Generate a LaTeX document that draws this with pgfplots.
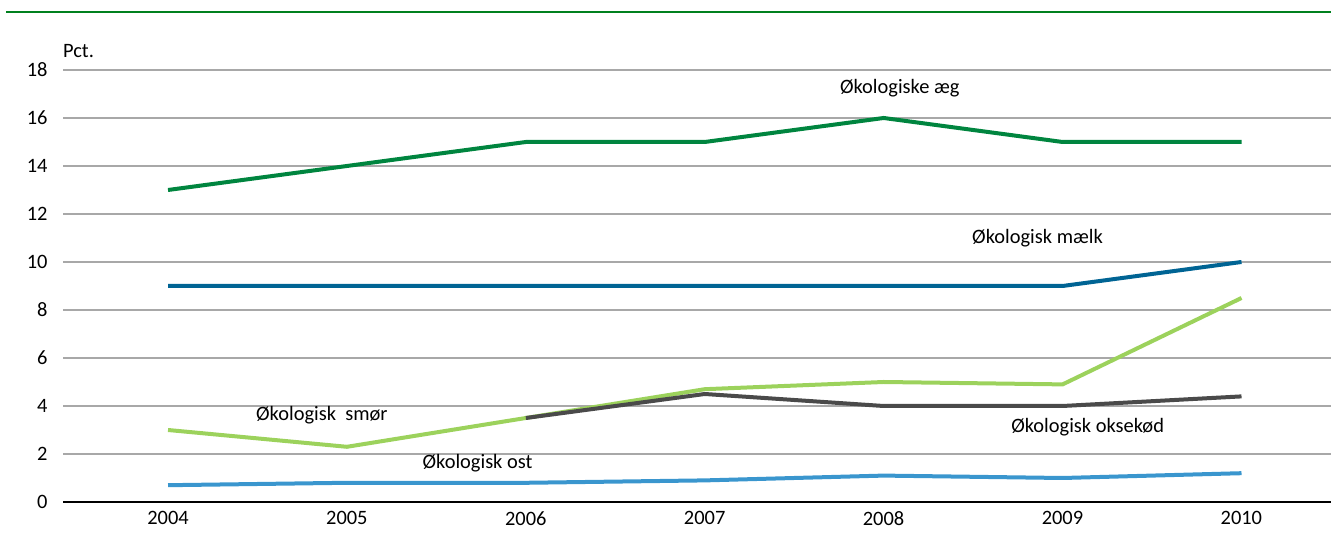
\documentclass[border=0pt]{standalone}
\usepackage{pgfplots}
\pgfplotsset{compat=1.18}
\usepackage{fontspec}
\setmainfont{Carlito}
\definecolor{egg}{HTML}{00853F}
\definecolor{milk}{HTML}{006494}
\definecolor{butter}{HTML}{9CD25C}
\definecolor{beef}{HTML}{4A4A4A}
\definecolor{cheese}{HTML}{3A96CE}
\definecolor{gridc}{HTML}{A8A8A8}
\definecolor{topc}{HTML}{00801E}
\begin{document}
\begin{tikzpicture}[x=1bp,y=1bp]
\path[use as bounding box] (0,0) rectangle (1337,538);
\draw[topc, line width=2bp] (6,526) -- (1331,526);
\begin{axis}[
  at={(63bp,36bp)}, anchor=origin,
  scale only axis, width=1268bp, height=432bp,
  xmin=2003.413, xmax=2010.5, ymin=0, ymax=18,
  xtick={2004,...,2010}, ytick={0,2,...,18},
  xticklabels={2004,2005,2006,2007,2008,2009,2010},
  axis x line*=bottom, axis y line*=left,
  x axis line style={black, line width=2.6bp, -},
  y axis line style={draw=none},
  major tick length=0pt,
  ymajorgrids, grid style={gridc, line width=1.8bp},
  tick label style={font=\fontsize{20.5}{24}\selectfont, black},
  /pgf/number format/assume math mode=true,
  /pgf/number format/1000 sep={},
  xticklabel style={yshift=-6bp},
  yticklabel style={xshift=-12bp},
  clip=false,
  every axis plot/.append style={line width=4bp, no markers},
]
\addplot[egg] coordinates {(2004,13) (2005,14) (2006,15) (2007,15) (2008,16) (2009,15) (2010,15)};
\addplot[milk] coordinates {(2004,9) (2005,9) (2006,9) (2007,9) (2008,9) (2009,9) (2010,10)};
\addplot[butter] coordinates {(2004,3) (2005,2.3) (2006,3.5) (2007,4.7) (2008,5.0) (2009,4.9) (2010,8.5)};
\addplot[beef] coordinates {(2006,3.5) (2007,4.5) (2008,4.0) (2009,4.0) (2010,4.4)};
\addplot[cheese] coordinates {(2004,0.7) (2005,0.8) (2006,0.8) (2007,0.9) (2008,1.1) (2009,1.0) (2010,1.2)};
\begin{scope}[every node/.style={font=\fontsize{20.5}{24}\selectfont}]
\node at (axis cs:2008.09,17.25) {Økologiske æg};
\node at (axis cs:2008.86,11.0) {Økologisk mælk};
\node at (axis cs:2004.86,3.6) {Økologisk\ \ smør};
\node at (axis cs:2009.14,3.1) {Økologisk oksekød};
\node at (axis cs:2005.73,1.6) {Økologisk ost};
\node[anchor=south west, inner sep=0pt] at (axis cs:2003.413,18) [yshift=12bp] {Pct.};
\end{scope}
\end{axis}
\end{tikzpicture}
\end{document}
